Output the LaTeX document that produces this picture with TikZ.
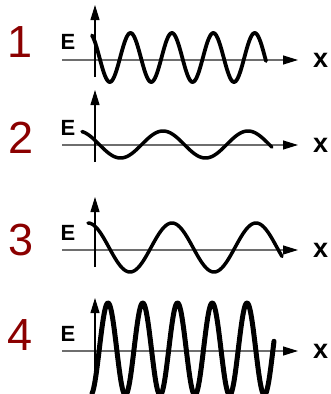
\documentclass[tikz,border=0pt]{standalone}
\usepackage{fontspec}
\setmainfont{Liberation Sans}
\usetikzlibrary{arrows.meta, positioning}
\definecolor{numred}{RGB}{139,0,0}
\definecolor{axisgray}{RGB}{110,110,110}
\tikzset{
x=1pt, y=-1pt, % one unit is one pixel of the page, y runs downwards
>={Triangle[length=15pt, width=9pt, color=black]}, % filled arrow heads
haxis/.style={->, axisgray, line width=1.2pt}, % horizontal axis
vaxis/.style={->, black, line width=1.1pt}, % vertical axis
wave/.style={black, line width=3.8pt, line join=round, line cap=round}, % the field E
numlabel/.style={numred, font=\fontsize{45}{50}\selectfont, inner sep=0pt}, % panel number
elabel/.style={font=\bfseries\fontsize{22}{24}\selectfont, inner sep=0pt}, % E next to the axis
xlabel/.style={font=\bfseries\fontsize{27}{28}\selectfont, inner sep=0pt}, % x after the arrow
}
\begin{document}
\begin{tikzpicture}
      \useasboundingbox (0,0) rectangle (331,394);

      % panel 1
      \coordinate (h1a) at (62,60);
      \coordinate (h1b) at (298,60);
      \coordinate (v1a) at (95,77);
      \coordinate (v1b) at (95,5);
      \node[numlabel] (n1) at (20,42) {1};
      \node[elabel] (E1) at (68,42) {E};
      \node[xlabel, right=15pt of h1b] (x1) {x};
      \draw[haxis] (h1a) -- (h1b);
      \draw[vaxis] (v1a) -- (v1b);
      \draw[wave] plot[domain=92:266, samples=200] (\x, {57.5 - 24.5*cos(360/41.4*(\x-130.5))});

      % panel 2
      \coordinate (h2a) at (62,145);
      \coordinate (h2b) at (298,145);
      \coordinate (v2a) at (95,162);
      \coordinate (v2b) at (95,90);
      \node[numlabel] (n2) at (21,138) {2};
      \node[elabel] (E2) at (68,128) {E};
      \node[xlabel, right=15pt of h2b] (x2) {x};
      \draw[haxis] (h2a) -- (h2b);
      \draw[vaxis] (v2a) -- (v2b);
      \draw[wave, line width=3.5pt] plot[domain=82:272, samples=200] (\x, {144.5 - 13.5*cos(360/85*(\x-163))});

      % panel 3
      \coordinate (h3a) at (62,250);
      \coordinate (h3b) at (298,250);
      \coordinate (v3a) at (95,267);
      \coordinate (v3b) at (95,197);
      \node[numlabel] (n3) at (21,240) {3};
      \node[elabel] (E3) at (68,233) {E};
      \node[xlabel, right=15pt of h3b] (x3) {x};
      \draw[haxis] (h3a) -- (h3b);
      \draw[vaxis] (v3a) -- (v3b);
      \draw[wave, line width=3.5pt] plot[domain=88:282, samples=200] (\x, {247.5 - 24.5*cos(360/84*(\x-172))});

      % panel 4
      \coordinate (h4a) at (62,351);
      \coordinate (h4b) at (298,351);
      \coordinate (v4a) at (95,388);
      \coordinate (v4b) at (95,298);
      \node[numlabel] (n4) at (20,335) {4};
      \node[elabel] (E4) at (68,334) {E};
      \node[xlabel, right=15pt of h4b] (x4) {x};
      \draw[haxis] (h4a) -- (h4b);
      \draw[vaxis] (v4a) -- (v4b);
      \draw[wave, line width=5pt] plot[domain=92:274, samples=300] (\x, {349 - 46*cos(360/34.75*(\x-108))});
    \end{tikzpicture}
\end{document}
